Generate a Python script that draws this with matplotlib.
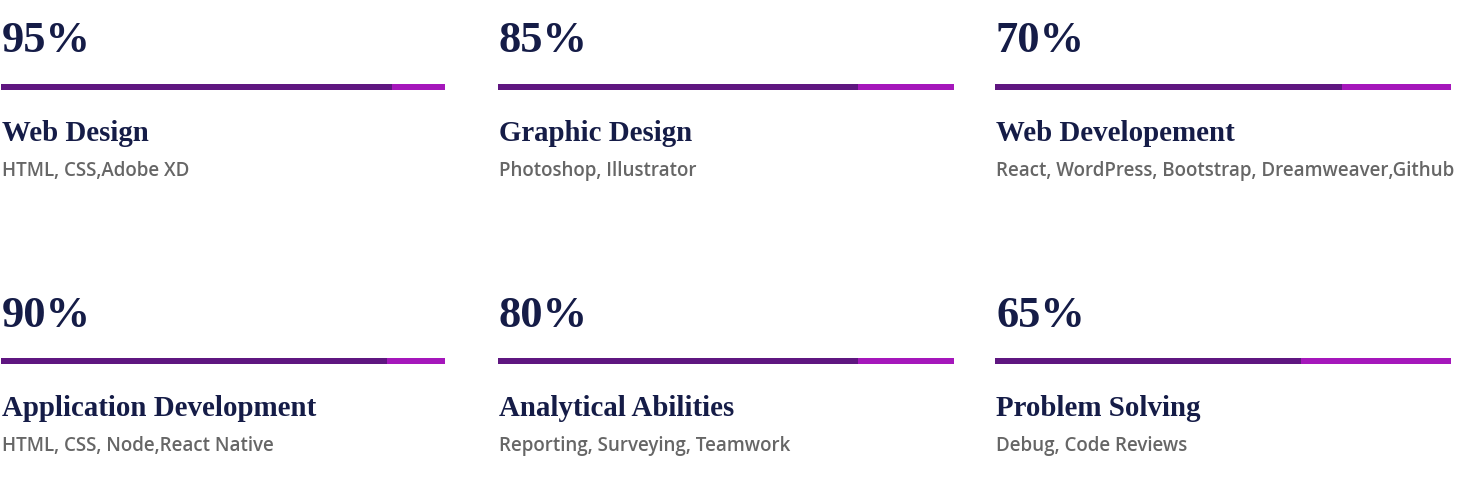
import matplotlib
matplotlib.use("Agg")
import matplotlib.pyplot as plt

# ---- data ----
percent_labels = ["95%", "85%", "70%", "90%", "80%", "65%"]
skills = ["Web Design", "Graphic Design", "Web Developement",
          "Application Development", "Analytical Abilities", "Problem Solving"]
tools = ["HTML, CSS,Adobe XD", "Photoshop, Illustrator",
         "React, WordPress, Bootstrap, Dreamweaver,Github",
         "HTML, CSS, Node,React Native", "Reporting, Surveying, Teamwork",
         "Debug, Code Reviews"]
# filled share of each track as drawn in the picture (percent)
fill_values = [88, 79, 76, 87, 79, 67]

# ---- layout / style ----
W, H = 1464, 493
col_x = [1, 498, 995]
track_w = [444, 456, 456]
row_bar_y = [86.5, 361]
row_off = 275
DARK = "#5f1680"
LIGHT = "#a517bb"
NAVY = "#151c47"
GRAY = "#666666"

fig = plt.figure(figsize=(W / 100, H / 100), dpi=100)
ax = fig.add_axes([0, 0, 1, 1])
ax.set_xlim(0, W)
ax.set_ylim(H, 0)
ax.axis("off")

for i in range(6):
    r, c = divmod(i, 3)
    x0 = col_x[c]
    tw = track_w[c]
    yb = row_bar_y[r]
    dy = r * row_off
    # track (light) then fill (dark)
    ax.barh(yb, tw, left=x0, height=6, color=LIGHT, edgecolor="none")
    ax.barh(yb, tw * fill_values[i] / 100, left=x0, height=6, color=DARK, edgecolor="none")
    ax.text(x0 + 1, 52 + dy, percent_labels[i], fontsize=32, fontweight="bold",
            family="Liberation Serif", color=NAVY, va="baseline", ha="left")
    ax.text(x0 + 1, 141 + dy, skills[i], fontsize=20.8, fontweight="bold",
            family="Liberation Serif", color=NAVY, va="baseline", ha="left")
    ax.text(x0 + 1, 176 + dy, tools[i], fontsize=13.5, fontweight="semibold",
            family="Open Sans", color=GRAY, va="baseline", ha="left")

fig.savefig("out.png", dpi=100, facecolor="white")
